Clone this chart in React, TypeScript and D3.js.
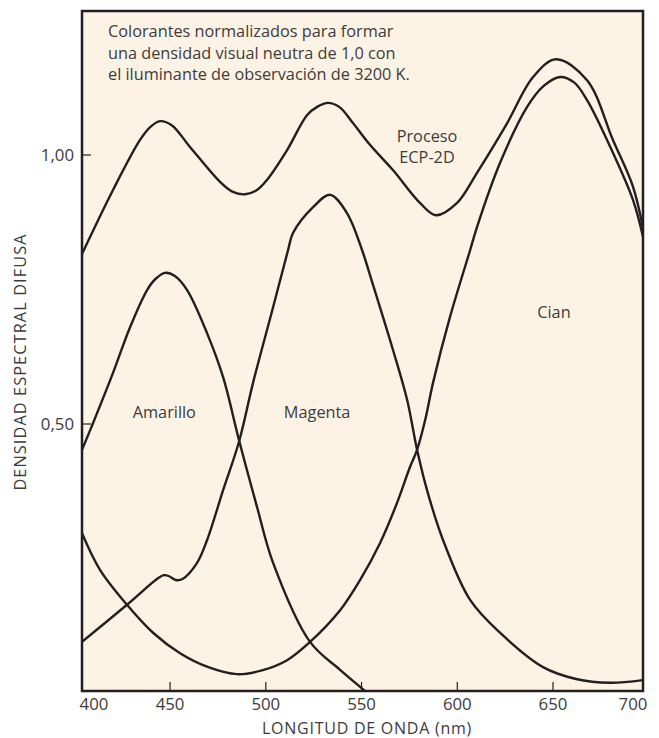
import React from "react";
import * as d3 from "d3";

type Pt = [number, number];

const totalCurve: Pt[] = [
  [404.0, 0.816], [420.2, 0.935], [434.3, 1.028], [439.6, 1.052], [444.8, 1.063],
  [451.0, 1.055], [460.4, 1.015], [476.1, 0.950], [482.5, 0.932], [489.2, 0.927],
  [495.0, 0.934], [500.7, 0.954], [511.1, 1.009], [521.5, 1.074], [527.0, 1.090],
  [532.5, 1.097], [538.5, 1.089], [545.6, 1.059], [554.4, 1.019], [566.4, 0.972],
  [580.5, 0.911], [588.9, 0.888], [599.9, 0.911], [610.3, 0.967], [626.0, 1.059],
  [639.6, 1.145], [651.6, 1.178], [667.8, 1.139], [681.3, 1.028], [691.8, 0.941],
  [697.0, 0.864],
];

const yellowCurve: Pt[] = [
  [404.0, 0.452], [409.8, 0.502], [420.2, 0.595], [429.1, 0.680], [438.0, 0.749],
  [442.5, 0.770], [447.4, 0.781], [452.5, 0.775], [458.9, 0.749], [469.3, 0.669],
  [477.7, 0.587], [486.0, 0.470], [495.4, 0.346], [503.8, 0.242], [523.1, 0.095],
  [538.8, 0.043], [551.8, 0.004],
];

const magentaCurve: Pt[] = [
  [404.0, 0.095], [427.5, 0.164], [444.0, 0.214], [446.8, 0.219], [449.5, 0.217],
  [453.0, 0.210], [456.5, 0.212], [464.1, 0.242], [469.3, 0.284], [477.7, 0.377],
  [486.0, 0.467], [493.3, 0.576], [503.8, 0.717], [511.6, 0.823], [514.2, 0.855],
  [524.7, 0.903], [533.6, 0.926], [542.4, 0.892], [550.3, 0.823], [554.4, 0.777],
  [566.4, 0.638], [573.8, 0.545], [579.0, 0.452], [584.2, 0.377], [592.6, 0.284],
  [606.7, 0.173], [622.3, 0.112], [644.8, 0.048], [662.0, 0.026], [679.8, 0.019],
  [697.0, 0.024],
];

const cyanCurve: Pt[] = [
  [404.0, 0.297], [413.4, 0.229], [427.5, 0.164], [441.1, 0.112], [455.2, 0.074],
  [470.0, 0.048], [485.0, 0.035], [498.0, 0.042], [511.1, 0.061], [523.1, 0.095],
  [538.8, 0.154], [549.2, 0.210], [559.7, 0.279], [568.5, 0.353], [575.3, 0.420],
  [579.0, 0.452], [583.2, 0.507], [587.3, 0.576], [596.2, 0.699], [606.7, 0.823],
  [610.3, 0.866], [622.3, 0.985], [636.4, 1.089], [645.0, 1.128], [653.7, 1.145],
  [661.0, 1.135], [667.8, 1.102], [681.3, 1.004], [691.8, 0.916], [697.0, 0.848],
];

const xTicks = [400, 450, 500, 550, 600, 650, 700];
const xTickLabels = ["400", "450", "500", "550", "600", "650", "700"];
const yTicks = [0.5, 1.0];
const yTickLabels = ["0,50", "1,00"];

const noteLines = [
  "Colorantes normalizados para formar",
  "una densidad visual neutra de 1,0 con",
  "el iluminante de observación de 3200 K.",
];

const curveLabels = [
  { lines: ["Proceso", "ECP-2D"], x: 584.2, y: 1.024 },
  { lines: ["Amarillo"], x: 447.0, y: 0.512 },
  { lines: ["Magenta"], x: 526.8, y: 0.512 },
  { lines: ["Cian"], x: 650.5, y: 0.697 },
];

const W = 659;
const H = 738;
const left = 82;
const right = 643;
const top = 11;
const bottom = 691;

export default function App() {
  const x = d3.scaleLinear().domain([404, 697]).range([left, right]);
  const y = d3.scaleLinear().domain([0.0037, 1.2677]).range([bottom, top]);
  const line = d3
    .line<Pt>()
    .x((d) => x(d[0]))
    .y((d) => y(d[1]))
    .curve(d3.curveCatmullRom.alpha(0.5));

  const font = "'Open Sans', 'Noto Sans', sans-serif";
  const textColor = "#3d3b3b";
  const ink = "#231f20";
  const fs = 16.3;
  const tickFs = 16.8;

  const series = [totalCurve, yellowCurve, magentaCurve, cyanCurve];

  return (
    <svg
      width={W}
      height={H}
      style={{ position: "absolute", left: 0, top: 0, background: "#ffffff" }}
    >
      <rect x={left} y={top} width={right - left} height={bottom - top} fill="#fdf3e4" />
      <defs>
        <clipPath id="plot">
          <rect x={left} y={top} width={right - left} height={bottom - top} />
        </clipPath>
      </defs>
      <g clipPath="url(#plot)">
        {series.map((s, i) => (
          <path
            key={i}
            d={line(s) || ""}
            fill="none"
            stroke={ink}
            strokeWidth={2.4}
            strokeLinejoin="round"
          />
        ))}
      </g>
      {xTicks.map((t, i) => {
        const px = x(t);
        const inside = px > left + 2 && px < right - 2;
        const lx = Math.min(Math.max(px, left + 12), right - 10);
        return (
          <g key={t}>
            {inside && (
              <line x1={px} x2={px} y1={bottom} y2={bottom - 9} stroke={ink} strokeWidth={1.2} />
            )}
            <text
              x={lx}
              y={710}
              textAnchor="middle"
              fontFamily={font}
              fontSize={tickFs}
              fill={textColor}
            >
              {xTickLabels[i]}
            </text>
          </g>
        );
      })}
      {yTicks.map((t, i) => (
        <g key={t}>
          <line x1={left} x2={left + 9} y1={y(t)} y2={y(t)} stroke={ink} strokeWidth={1.2} />
          <text
            x={74}
            y={y(t)}
            dy="0.36em"
            textAnchor="end"
            fontFamily={font}
            fontSize={tickFs}
            fill={textColor}
          >
            {yTickLabels[i]}
          </text>
        </g>
      ))}
      <rect
        x={left}
        y={top}
        width={right - left}
        height={bottom - top}
        fill="none"
        stroke={ink}
        strokeWidth={2.5}
      />
      {noteLines.map((l, i) => (
        <text
          key={i}
          x={108}
          y={37 + i * 21.5}
          fontFamily={font}
          fontSize={fs}
          fill={textColor}
        >
          {l}
        </text>
      ))}
      {curveLabels.map((c, i) =>
        c.lines.map((l, j) => (
          <text
            key={`${i}-${j}`}
            x={x(c.x)}
            y={y(c.y) + j * 21}
            textAnchor="middle"
            fontFamily={font}
            fontSize={fs}
            fill={textColor}
          >
            {l}
          </text>
        ))
      )}
      <text
        x={367}
        y={733.5}
        textAnchor="middle"
        fontFamily={font}
        fontSize={16}
        letterSpacing={0.75}
        fill={textColor}
      >
        LONGITUD DE ONDA (nm)
      </text>
      <text
        transform={`translate(26, 362) rotate(-90)`}
        textAnchor="middle"
        fontFamily={font}
        fontSize={fs}
        letterSpacing={1.1}
        fill={textColor}
      >
        DENSIDAD ESPECTRAL DIFUSA
      </text>
    </svg>
  );
}
